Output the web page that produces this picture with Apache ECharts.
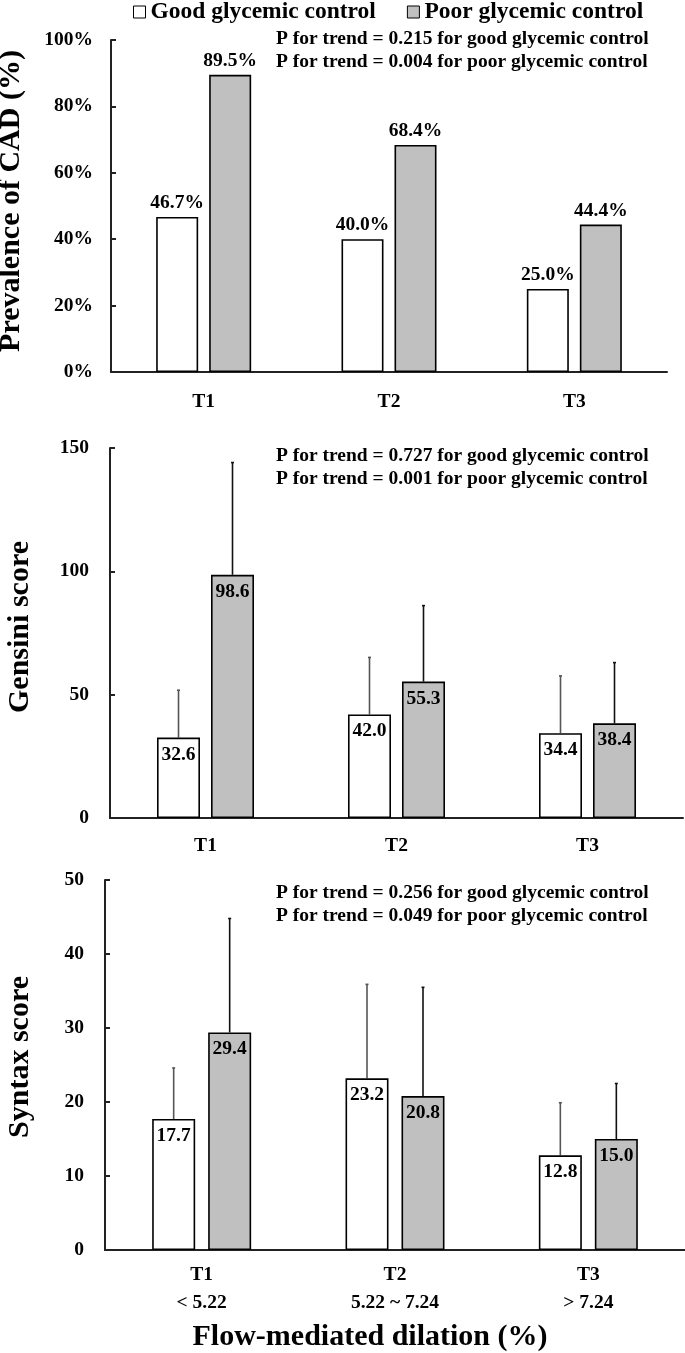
<!DOCTYPE html>
<html>
<head>
<meta charset="utf-8">
<script src="https://cdn.jsdelivr.net/npm/echarts@6/dist/echarts.min.js"></script>
<style>
html,body{margin:0;padding:0;background:#fff;}
#chart{width:685px;height:1353px;}
</style>
</head>
<body>
<div id="chart"></div>
<script>
// ---- data ----
const categories = ['T1', 'T2', 'T3'];
const fmdRanges = ['< 5.22', '5.22 ~ 7.24', '> 7.24'];
const seriesNames = ['Good glycemic control', 'Poor glycemic control'];

const cadGood = [46.7, 40.0, 25.0];
const cadPoor = [89.5, 68.4, 44.4];

const gensiniGood = [32.6, 42.0, 34.4];
const gensiniPoor = [98.6, 55.3, 38.4];
const gensiniGoodSD = [19.2, 23.1, 23.2];
const gensiniPoorSD = [45.5, 30.8, 24.6];

const syntaxGood = [17.7, 23.2, 12.8];
const syntaxPoor = [29.4, 20.8, 15.0];
const syntaxGoodSD = [6.9, 12.7, 7.1];
const syntaxPoorSD = [15.4, 14.7, 7.5];

const pTrendGood = ['0.215', '0.727', '0.256'];
const pTrendPoor = ['0.004', '0.001', '0.049'];

const yTitles = ['Prevalence of CAD (%)', 'Gensini score', 'Syntax score'];
const xTitle = 'Flow-mediated dilation (%)';

// ---- styles ----
const FONT = '"Liberation Serif", "Times New Roman", serif';
const FS = 19.5;
const GREY = '#c0c0c0';
const grids = [
  { left: 111, top: 40, width: 556, height: 332 },
  { left: 110, top: 448, width: 573, height: 370 },
  { left: 105, top: 880, width: 582, height: 370 }
];
const barW = [42, 43, 43];
const gapPx = [11, 11, 13];
const yMax = [100, 150, 50];
const yInt = [20, 50, 10];
const yLabelMargins = [18, 21, 21];
const xLabelMargins = [16, 14, 11];
const yTitlePos = [[11, 201], [20, 627], [20, 1057]];
const pTops = [27, 444, 881];

const chart = echarts.init(document.getElementById('chart'), null, { renderer: 'canvas' });

const xAxes = grids.map((g, i) => ({
  type: 'category',
  gridIndex: i,
  data: categories,
  axisLine: { lineStyle: { color: '#222', width: 2 } },
  axisTick: { show: false },
  axisLabel: {
    color: '#000', fontFamily: FONT, fontWeight: 'bold', fontSize: FS,
    margin: xLabelMargins[i], lineHeight: 28,
    formatter: i === 2 ? (v, idx) => v + '\n' + fmdRanges[idx] : (v) => v
  }
}));

const yAxes = grids.map((g, i) => ({
  type: 'value',
  gridIndex: i,
  min: 0, max: yMax[i], interval: yInt[i],
  splitLine: { show: false },
  axisLine: { show: true, lineStyle: { color: '#222', width: 2 } },
  axisTick: { show: true, inside: true, length: 5, lineStyle: { color: '#222', width: 2 } },
  axisLabel: {
    color: '#000', fontFamily: FONT, fontWeight: 'bold', fontSize: FS, margin: yLabelMargins[i],
    formatter: i === 0 ? '{value}%' : '{value}'
  }
}));

function barSeries(name, data, gi, isPoor, labelPos) {
  return {
    name: name,
    type: 'bar',
    xAxisIndex: gi, yAxisIndex: gi,
    data: data,
    barWidth: barW[gi],
    barGap: (gapPx[gi] / barW[gi] * 100).toFixed(1) + '%',
    itemStyle: { color: isPoor ? GREY : '#fff', borderColor: '#000', borderWidth: 1.6 },
    label: {
      show: true,
      position: labelPos,
      distance: labelPos === 'top' ? 4 : 7,
      color: '#000', fontFamily: FONT, fontWeight: 'bold', fontSize: FS,
      formatter: (p) => p.value.toFixed(1) + (gi === 0 ? '%' : '')
    },
    z: 3
  };
}

function errSeries(means, sds, gi, isPoor) {
  const off = (isPoor ? 1 : -1) * (barW[gi] + gapPx[gi]) / 2;
  return {
    type: 'custom',
    xAxisIndex: gi, yAxisIndex: gi,
    data: means.map((m, k) => [k, m, sds[k]]),
    encode: { x: 0, y: 1 },
    z: 2,
    silent: true,
    renderItem: function (params, api) {
      const k = api.value(0), m = api.value(1), s = api.value(2);
      const base = api.coord([k, m]);
      const top = api.coord([k, m + s]);
      const x = base[0] + off;
      const col = isPoor ? '#111' : '#555';
      return {
        type: 'group',
        children: [
          { type: 'line', shape: { x1: x, y1: base[1], x2: x, y2: top[1] }, style: { stroke: col, lineWidth: 1.6 } },
          { type: 'line', shape: { x1: x - 1.5, y1: top[1], x2: x + 1.5, y2: top[1] }, style: { stroke: col, lineWidth: 1.6 } }
        ]
      };
    }
  };
}

const series = [
  barSeries(seriesNames[0], cadGood, 0, false, 'top'),
  barSeries(seriesNames[1], cadPoor, 0, true, 'top'),
  errSeries(gensiniGood, gensiniGoodSD, 1, false),
  errSeries(gensiniPoor, gensiniPoorSD, 1, true),
  barSeries(seriesNames[0], gensiniGood, 1, false, 'insideTop'),
  barSeries(seriesNames[1], gensiniPoor, 1, true, 'insideTop'),
  errSeries(syntaxGood, syntaxGoodSD, 2, false),
  errSeries(syntaxPoor, syntaxPoorSD, 2, true),
  barSeries(seriesNames[0], syntaxGood, 2, false, 'insideTop'),
  barSeries(seriesNames[1], syntaxPoor, 2, true, 'insideTop')
];

const graphics = pTops.map((t, i) => ({
  type: 'text',
  left: 276,
  top: t,
  style: {
    text: 'P for trend = ' + pTrendGood[i] + ' for good glycemic control\nP for trend = ' + pTrendPoor[i] + ' for poor glycemic control',
    fill: '#000', font: 'bold ' + FS + 'px ' + FONT, lineHeight: 23.5
  }
}));
yTitles.forEach((t, i) => {
  graphics.push({
    type: 'text',
    x: yTitlePos[i][0], y: yTitlePos[i][1],
    rotation: Math.PI / 2,
    style: { text: t, fill: '#000', font: 'bold 30px ' + FONT, align: 'center', verticalAlign: 'middle' }
  });
});
graphics.push({
  type: 'text',
  x: 370, y: 1337,
  style: { text: xTitle, fill: '#000', font: 'bold 30px ' + FONT, align: 'center', verticalAlign: 'middle' }
});

chart.setOption({
  animation: false,
  backgroundColor: '#fff',
  legend: {
    data: seriesNames,
    left: 133, top: 0, padding: 0,
    icon: 'rect',
    itemWidth: 12, itemHeight: 12,
    itemGap: 31,
    itemStyle: { borderColor: '#000', borderWidth: 1 },
    textStyle: { color: '#000', fontFamily: FONT, fontWeight: 'bold', fontSize: 23.5 },
    selectedMode: false
  },
  grid: grids,
  xAxis: xAxes,
  yAxis: yAxes,
  series: series,
  graphic: graphics
});
</script>
</body>
</html>
